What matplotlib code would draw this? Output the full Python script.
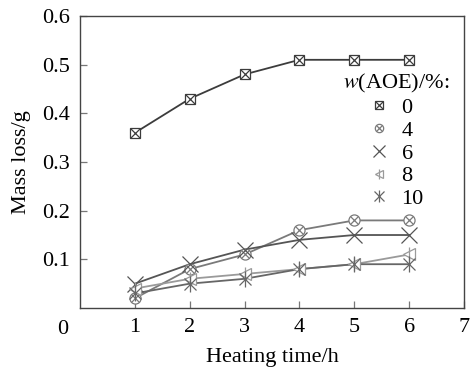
import matplotlib
matplotlib.use("Agg")
import matplotlib.pyplot as plt
from matplotlib.legend_handler import HandlerTuple

plt.rcParams['font.family'] = ['Liberation Serif', 'DejaVu Serif']
plt.rcParams['mathtext.fontset'] = 'stix'

hours = [1, 2, 3, 4, 5, 6]
labels = ['0', '4', '6', '8', '10']
s0 = [0.36, 0.43, 0.48, 0.51, 0.51, 0.51]
s4 = [0.02, 0.08, 0.11, 0.16, 0.18, 0.18]
s6 = [0.05, 0.09, 0.12, 0.14, 0.15, 0.15]
s8 = [0.04, 0.06, 0.07, 0.08, 0.09, 0.11]
s10 = [0.03, 0.05, 0.06, 0.08, 0.09, 0.09]
xticks = [1, 2, 3, 4, 5, 6, 7]
yticks = [0.1, 0.2, 0.3, 0.4, 0.5, 0.6]

fig = plt.figure(figsize=(4.71, 3.68), dpi=100)
ax = fig.add_axes([0.170, 0.163, 0.815, 0.7935])

series = [s0, s4, s6, s8, s10]
colors = ['#3c3c3c', '#7a7a7a', '#555555', '#9a9a9a', '#666666']
markers = [[('s', 7), ('x', 7)], [('o', 8), ('x', 6)], [('x', 11)], [('<', 8), ('|', 10)], [('x', 9), ('|', 11)]]

handles = []
for ys, c, mk in zip(series, colors, markers):
    ax.plot(hours, ys, color=c, lw=1.3, zorder=2)
    parts = []
    for m, ms in mk:
        h, = ax.plot(hours, ys, ls='none', marker=m, ms=ms, mfc='white' if m in ('s', 'o', '<') else 'none',
                     mec=c, mew=0.9, zorder=3)
        parts.append(h)
    handles.append(tuple(parts))

ax.set_xlim(0, 7)
ax.set_ylim(0, 0.6)
ax.set_xticks(xticks)
ax.set_yticks(yticks)
ax.set_xticklabels([str(v) for v in xticks])
ax.set_yticklabels([f'{v:.1f}' for v in yticks])
ax.tick_params(direction='in', length=5, width=0.9, color='#777777', labelsize=16, pad=7)
for sp in ax.spines.values():
    sp.set_color('#444444')
    sp.set_linewidth(1.0)
ax.text(-0.044, -0.075, '0', transform=ax.transAxes, ha='center', va='center', fontsize=16)

ax.set_xlabel('Heating time/h', fontsize=16, labelpad=8)
ax.set_ylabel('Mass loss/g', fontsize=16, labelpad=8)

leg = ax.legend(handles, labels, handler_map={tuple: HandlerTuple(ndivide=1)},
                title='$w$(AOE)/%:', frameon=False, fontsize=16, title_fontsize=16,
                loc='upper right', bbox_to_anchor=(0.985, 0.84), handlelength=1.0,
                handletextpad=0.5, labelspacing=0.1, borderaxespad=0, markerscale=0.75)
leg._legend_box.sep = 2

fig.savefig('out.png', dpi=100)
